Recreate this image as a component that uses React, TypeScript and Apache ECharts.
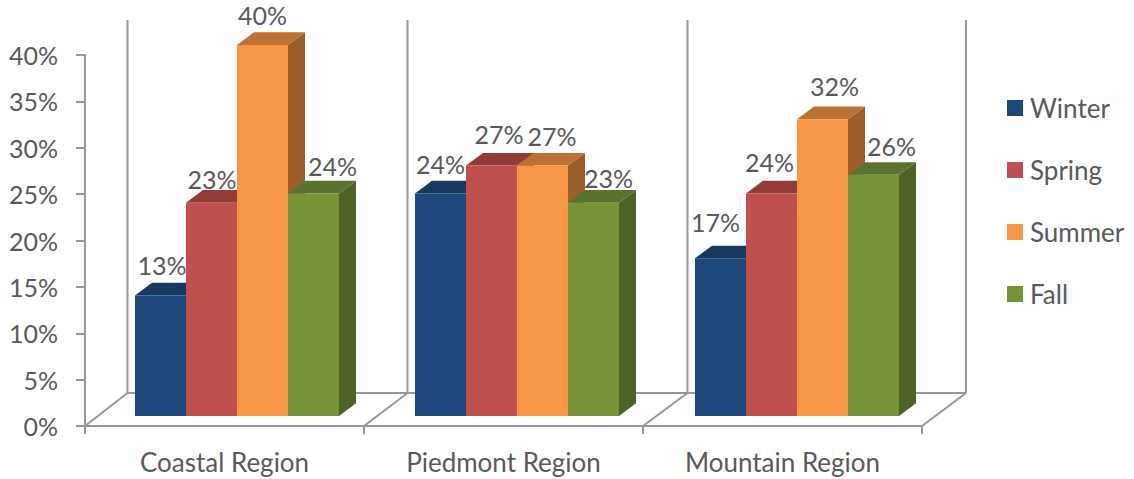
import React, { useEffect, useRef } from "react";
import * as echarts from "echarts";

const regions = ["Coastal Region", "Piedmont Region", "Mountain Region"];
const seasons = ["Winter", "Spring", "Summer", "Fall"];
const winter = [13, 24, 17];
const spring = [23, 27, 24];
const summer = [40, 27, 32];
const fall = [24, 23, 26];
const seasonValues = [winter, spring, summer, fall];

// Face colours of each season's column: front, top, side.
const frontColors = ["#1F497D", "#C0504D", "#F79646", "#779438"];
const topColors = ["#18395F", "#933B39", "#BC7235", "#5B7130"];
const sideColors = ["#142F50", "#7E3230", "#9C5F2B", "#4E6126"];

// Hand-placed data label offsets from each column's top-left-front corner, per season and region.
const labelNudgeX = [
  [1.5, 0, -5],
  [0.5, 7.5, -2],
  [0, 9.5, 12],
  [19, 15, 18],
];
const labelNudgeY = [
  [-30, -29, -36],
  [-24, -32, -31],
  [-30, -30, -33],
  [-27, -25, -29],
];

const FONT = "Lato, Carlito, sans-serif";
const TEXT = "#595959";
const FRAME = "#979797";
const DEPTH_X = 17;
const DEPTH_Y = 12.7;
const BAR_SHARE = 51 / 280;

function columnSeries(seasonIndex: number) {
  return {
    type: "custom",
    name: seasons[seasonIndex],
    xAxisIndex: 1,
    yAxisIndex: 1,
    silent: true,
    clip: false,
    z: 3,
    itemStyle: { color: frontColors[seasonIndex] },
    data: seasonValues[seasonIndex].map((v, i) => [i, v]),
    renderItem: (_p: unknown, api: any) => {
      const region = api.value(0);
      const value = api.value(1);
      const [center, top] = api.coord([region, value]);
      const [, base] = api.coord([region, 0]);
      const barWidth = api.size([1, 0])[0] * BAR_SHARE;
      const left = center - 2 * barWidth + seasonIndex * barWidth;
      const right = left + barWidth;
      const poly = (points: number[][], fill: string) => ({
        type: "polygon",
        shape: { points },
        style: { fill },
      });
      return {
        type: "group",
        children: [
          poly(
            [
              [right, top],
              [right + DEPTH_X, top - DEPTH_Y],
              [right + DEPTH_X, base - DEPTH_Y],
              [right, base],
            ],
            sideColors[seasonIndex]
          ),
          poly(
            [
              [left, top],
              [left + DEPTH_X, top - DEPTH_Y],
              [right + DEPTH_X, top - DEPTH_Y],
              [right, top],
            ],
            topColors[seasonIndex]
          ),
          poly(
            [
              [left, top],
              [right, top],
              [right, base],
              [left, base],
            ],
            frontColors[seasonIndex]
          ),
          {
            type: "text",
            z2: 10,
            style: {
              text: `${value}%`,
              x: left + barWidth / 2 + labelNudgeX[seasonIndex][region],
              y: top + labelNudgeY[seasonIndex][region],
              textAlign: "center",
              textVerticalAlign: "middle",
              fontFamily: FONT,
              fontSize: 25,
              fill: TEXT,
            },
          },
        ],
      };
    },
  };
}

// Back wall and floor outline of the 3D box, behind the columns.
const frameLine = (x1: number, y1: number, x2: number, y2: number) => ({
  type: "line",
  z: 0,
  silent: true,
  shape: { x1, y1, x2, y2 },
  style: { stroke: FRAME, lineWidth: 2 },
});

const frameElements = [
  frameLine(127.5, 20, 127.5, 393),
  frameLine(407.5, 20, 407.5, 393),
  frameLine(687.5, 20, 687.5, 393),
  frameLine(966, 20, 966, 393),
  frameLine(127, 393, 966, 393),
  frameLine(85, 426, 127.5, 393),
  frameLine(364, 426, 407.5, 393),
  frameLine(643, 426, 687.5, 393),
  frameLine(922, 426, 966, 393),
];

export default function App() {
  const ref = useRef<HTMLDivElement>(null);

  useEffect(() => {
    document.body.style.margin = "0";
    const chart = echarts.init(ref.current!, undefined, { renderer: "svg" });
    chart.setOption({
      animation: false,
      backgroundColor: "#ffffff",
      textStyle: { fontFamily: FONT },
      grid: [
        { left: 85, top: 55, width: 837, height: 371 },
        { left: 97, top: 45, width: 840, height: 371 },
      ],
      xAxis: [
        {
          type: "category",
          gridIndex: 0,
          data: regions,
          axisLine: { lineStyle: { color: FRAME, width: 2 } },
          axisTick: { show: true, alignWithLabel: false, length: 8, lineStyle: { color: FRAME, width: 2 } },
          axisLabel: { color: TEXT, fontSize: 26, fontFamily: FONT, margin: 23 },
        },
        { type: "category", gridIndex: 1, data: regions, show: false },
      ],
      yAxis: [
        {
          type: "value",
          gridIndex: 0,
          min: 0,
          max: 40,
          interval: 5,
          axisLine: { show: true, lineStyle: { color: FRAME, width: 2 } },
          axisTick: { show: true, length: 9, lineStyle: { color: FRAME, width: 2 } },
          axisLabel: { color: TEXT, fontSize: 25, fontFamily: FONT, margin: 27, formatter: "{value}%" },
          splitLine: { show: false },
        },
        { type: "value", gridIndex: 1, min: 0, max: 40, interval: 5, show: false, splitLine: { show: false } },
      ],
      legend: {
        orient: "vertical",
        left: 1002,
        top: 90,
        icon: "rect",
        itemWidth: 16,
        itemHeight: 16,
        itemGap: 36,
        selectedMode: false,
        data: seasons,
        textStyle: { color: TEXT, fontSize: 26, fontFamily: FONT, padding: [0, 0, 0, 2] },
      },
      graphic: { elements: frameElements },
      series: seasons.map((_s, i) => columnSeries(i)),
    });
    return () => chart.dispose();
  }, []);

  return <div ref={ref} style={{ position: "absolute", left: 0, top: 0, width: 1134, height: 479 }} />;
}
